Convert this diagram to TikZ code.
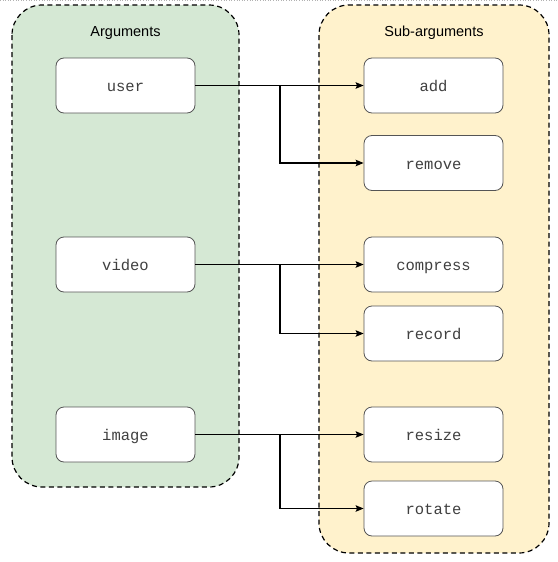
\documentclass[tikz,border=0pt]{standalone}
\usepackage{fontspec}
\setmainfont{Liberation Sans}
\newfontfamily\codefont{Liberation Mono}
\usetikzlibrary{arrows.meta}
\definecolor{argfill}{HTML}{D5E8D4}
\definecolor{subfill}{HTML}{FFF2CC}
\definecolor{boxline}{HTML}{555555}
\begin{document}
\begin{tikzpicture}[x=1pt,y=-1pt,
  container/.style={draw=black,line width=1.2pt,dash pattern=on 5pt off 3.5pt,rounded corners=30pt},
  itembox/.style={draw=boxline,fill=white,line width=0.8pt,rounded corners=8pt,minimum width=139pt,minimum height=55pt,inner sep=0pt,text height=12pt,text depth=0pt,font=\codefont\fontsize{15.5}{17}\selectfont,text=black!75},
  title/.style={font=\fontsize{14.5}{16}\selectfont,text=black},
  conn/.style={line width=1.3pt,-{Stealth[length=8pt,width=6.5pt,inset=1.5pt]}}]
\useasboundingbox (0,0) rectangle (557,562);
\draw[gray!60,line width=0.6pt,dotted] (0,0.5) -- (557,0.5);
% containers
\draw[container,fill=argfill] (12,5) rectangle (239,487);
\draw[container,fill=subfill] (319,5) rectangle (549,553);
\node[title] (argt) at (125.5,33) {Arguments};
\node[title] (subt) at (434,33) {Sub-arguments};
% left items
\node[itembox] (user) at (125.5,85.5) {user};
\node[itembox] (video) at (125.5,264.5) {video};
\node[itembox] (image) at (125.5,434.5) {image};
% right items
\node[itembox] (add) at (433.5,85.5) {add};
\node[itembox] (remove) at (433.5,163) {remove};
\node[itembox] (compress) at (433.5,264.5) {compress};
\node[itembox] (record) at (433.5,333.5) {record};
\node[itembox] (resize) at (433.5,434.5) {resize};
\node[itembox] (rotate) at (433.5,508.5) {rotate};
% connectors
\coordinate (j1) at (280,85.5);
\coordinate (j2) at (280,264.5);
\coordinate (j3) at (280,434.5);
\draw[conn] (user.east) -- (add.west);
\draw[conn] (j1) |- (remove.west);
\draw[conn] (video.east) -- (compress.west);
\draw[conn] (j2) |- (record.west);
\draw[conn] (image.east) -- (resize.west);
\draw[conn] (j3) |- (rotate.west);
\end{tikzpicture}
\end{document}
